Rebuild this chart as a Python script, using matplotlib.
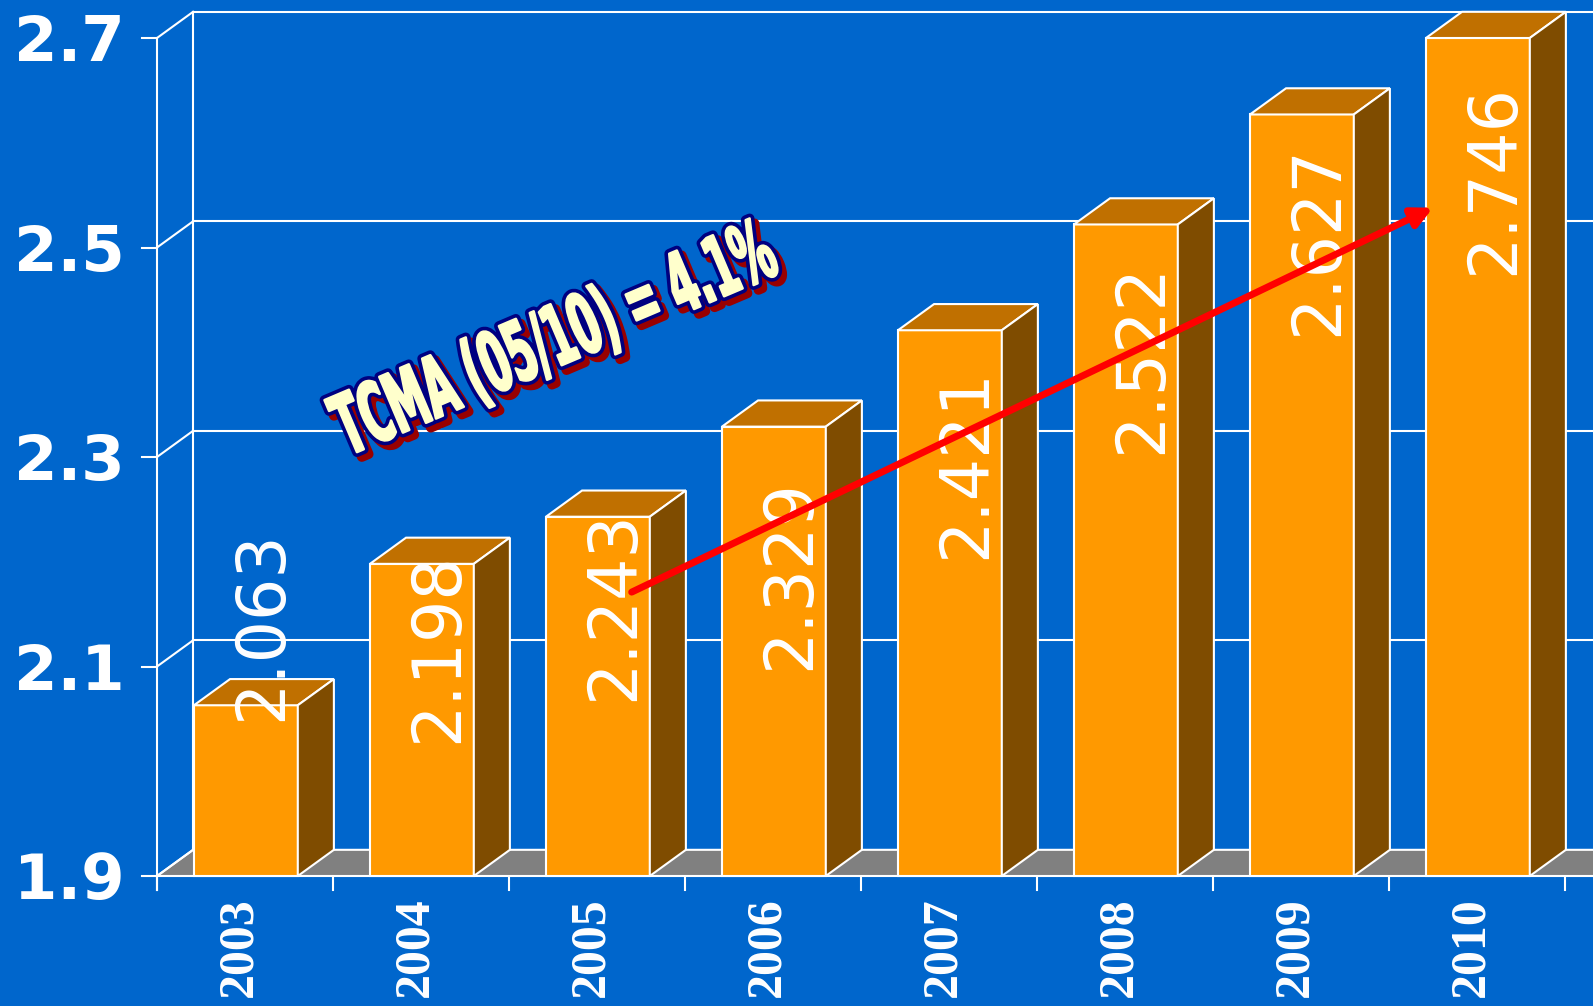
import matplotlib
matplotlib.use('Agg')
import matplotlib.pyplot as plt
from matplotlib.patches import Polygon, Rectangle, FancyArrowPatch, ArrowStyle
from matplotlib.transforms import Affine2D
from matplotlib import patheffects
from matplotlib.colors import to_rgba

# data
years = ['2003', '2004', '2005', '2006', '2007', '2008', '2009', '2010']
values = [2.063, 2.198, 2.243, 2.329, 2.421, 2.522, 2.627, 2.746]
value_labels = ['2.063', '2.198', '2.243', '2.329', '2.421', '2.522', '2.627', '2.746']
y_ticks = [1.9, 2.1, 2.3, 2.5, 2.7]
y_tick_labels = ['1.9', '2.1', '2.3', '2.5', '2.7']
note = 'TCMA (05/10) = 4.1%'

# layout (value units / category units)
label_pos = [2.139, 2.118, 2.158, 2.188, 2.294, 2.394, 2.507, 2.565]
arrow_start = (2.697, 2.171)
arrow_end = (7.25, 2.538)
note_pos = (1.085, 2.301)

Y_MIN, Y_MAX = 1.9, 2.7
DX, DY = 0.205, 0.025          # depth of the 3d box
BAR_L, BAR_R = 0.21, 0.80      # front face of a bar inside its category
TICK = 0.0134

BG = '#0066CC'
FRONT = '#FF9900'
TOP = '#C07000'
SIDE = '#7F4C00'
FLOOR = '#808080'
LW = 1.5


class Stretch(patheffects.AbstractPathEffect):
    """draw the text path stretched (tall condensed look)"""
    def __init__(self, sx, sy, offset=(0, 0), color=None, lw=0.0, fill=None):
        super().__init__(offset)
        self.sx = sx
        self.sy = sy
        self.color = color
        self.lw = lw
        self.fill = fill

    def draw_path(self, renderer, gc, tpath, affine, rgbFace):
        gc0 = renderer.new_gc()
        gc0.copy_properties(gc)
        if self.color is not None:
            gc0.set_foreground(self.color)
            gc0.set_linewidth(self.lw)
            gc0.set_joinstyle('round')
        else:
            gc0.set_linewidth(0)
        face = to_rgba(self.fill) if self.fill is not None else rgbFace
        trans = Affine2D().scale(self.sx, self.sy) + affine + self._offset_transform(renderer)
        renderer.draw_path(gc0, tpath, trans, face)
        gc0.restore()


fig = plt.figure(figsize=(15.93, 10.06), dpi=100)
fig.patch.set_facecolor(BG)
ax = fig.add_axes([0, 0, 1, 1])
ax.set_xlim(-157 / 176, (1593 - 157) / 176)
ax.set_ylim(Y_MIN - 130 / 1047.5, Y_MIN + 876 / 1047.5)
ax.axis('off')

n = len(years)
x_end = n + 1

# back wall grid
for t in y_ticks[1:]:
    ax.plot([DX, x_end], [t + DY, t + DY], color='white', lw=LW, zorder=1)
ax.plot([DX, DX], [Y_MIN + DY, Y_MAX + DY], color='white', lw=LW, zorder=1)

# floor
ax.add_patch(Polygon([(0, Y_MIN), (x_end, Y_MIN), (x_end + DX, Y_MIN + DY), (DX, Y_MIN + DY)],
                     closed=True, fc=FLOOR, ec='white', lw=LW, zorder=1.5))

# left wall + y ticks
ax.plot([0, 0], [Y_MIN - TICK, Y_MAX], color='white', lw=LW, zorder=1)
for t, lab in zip(y_ticks, y_tick_labels):
    ax.plot([0, DX], [t, t + DY], color='white', lw=LW, zorder=1.6)
    ax.plot([-0.085, 0], [t, t], color='white', lw=LW, zorder=1)
    ax.text(-0.182, t - 0.022, lab, ha='right', va='baseline', color='white',
            fontsize=45, fontweight='bold', family='DejaVu Sans')

# x ticks + year labels
for i in range(n + 1):
    ax.plot([i, i], [Y_MIN - TICK, Y_MIN], color='white', lw=LW, zorder=1)
for i, y in enumerate(years):
    ax.text(i + 0.47, Y_MIN - 0.020, y, rotation=90, ha='center', va='top',
            color='white', fontsize=36, fontweight='bold', family='Liberation Serif')

# bars
for i, v in enumerate(values):
    h = min(v, Y_MAX)
    xl, xr = i + BAR_L, i + BAR_R
    ax.add_patch(Rectangle((xl, Y_MIN), xr - xl, h - Y_MIN, fc=FRONT, ec='white', lw=LW, zorder=2))
    ax.add_patch(Polygon([(xl, h), (xr, h), (xr + DX, h + DY), (xl + DX, h + DY)],
                         closed=True, fc=TOP, ec='white', lw=LW, zorder=2))
    ax.add_patch(Polygon([(xr, Y_MIN), (xr + DX, Y_MIN + DY), (xr + DX, h + DY), (xr, h)],
                         closed=True, fc=SIDE, ec='white', lw=LW, zorder=2))

# value labels
for i, (lab, p) in enumerate(zip(value_labels, label_pos)):
    ax.text(i + 0.60, p, lab, rotation=90, ha='center', va='center', color='white',
            fontsize=48, family='DejaVu Sans', zorder=3)

# growth arrow
arrow = FancyArrowPatch(arrow_start, arrow_end,
                        arrowstyle=ArrowStyle('-|>', head_length=12, head_width=6),
                        mutation_scale=1, color='#FF0000', lw=5, shrinkA=0, shrinkB=0,
                        zorder=4)
ax.add_patch(arrow)

# TCMA note: tall narrow letters, navy outline, dark red shadow
sy = 2.1
ax.text(note_pos[0], note_pos[1], note, rotation=23, rotation_mode='anchor',
        ha='left', va='baseline', fontsize=28.5, fontweight='bold', family='DejaVu Sans',
        color='#FFFFCC', zorder=5,
        path_effects=[Stretch(1, sy, offset=(3.5, -3.5), color='#990000', lw=7, fill='#990000'),
                      Stretch(1, sy, color='#000080', lw=7, fill='#000080'),
                      Stretch(1, sy, color='#FFFFCC', lw=1.8, fill='#FFFFCC')])

fig.savefig('out.png', dpi=100, facecolor=fig.get_facecolor())
